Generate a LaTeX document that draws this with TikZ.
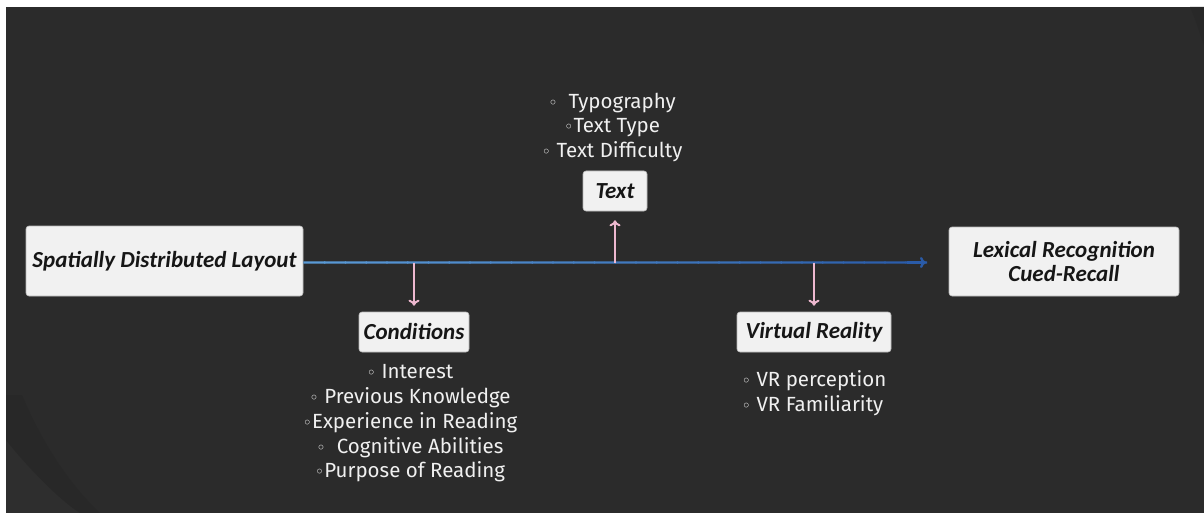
\documentclass[tikz,border=0pt]{standalone}
\usepackage{fontspec}
\setmainfont{Fira Sans}
\newfontfamily\boxfont{Carlito}
\newfontfamily\bulfont{DejaVu Sans}
\usetikzlibrary{arrows.meta,calc}
\definecolor{bgdark}{HTML}{2B2B2B}
\definecolor{bgshade}{HTML}{282828}
\definecolor{bglight}{HTML}{2E2E2E}
\definecolor{boxfill}{HTML}{F1F1F1}
\definecolor{boxline}{HTML}{B8B8B8}
\definecolor{boxtext}{HTML}{161616}
\definecolor{listtext}{HTML}{F0F0F0}
\definecolor{lineA}{HTML}{5A9AD6}
\definecolor{lineB}{HTML}{2A5BA8}
\definecolor{branch}{HTML}{EDB8CF}
\newcommand{\bu}{{\bulfont\fontsize{16}{16}\selectfont ◦}}
\tikzset{
  keybox/.style={draw=boxline, line width=0.6pt, fill=boxfill, rounded corners=3pt,
    text=boxtext, font=\boxfont\bfseries\itshape\fontsize{23}{24}\selectfont,
    inner sep=0pt, align=center},
  itemlist/.style={text=listtext, font=\fontsize{20.5}{24.7}\selectfont, inner sep=0pt},
  branchline/.style={draw=branch, line width=2pt, -{To[length=6pt,width=11pt]}},
}
\begin{document}
\begin{tikzpicture}[x=1pt,y=-1pt]
\useasboundingbox (0,0) rectangle (1204,513);
% page margin and dark backdrop
\fill[white] (0,0) rectangle (1204,513);
\fill[bgdark] (6,7) rectangle (1204,513);
% soft background swoosh in the lower left corner
\fill[bglight] (6,440) .. controls (30,470) and (60,500) .. (80,513) -- (6,513) -- cycle;
\fill[bgshade] (22,395) .. controls (45,450) and (75,490) .. (100,513) -- (80,513)
  .. controls (60,500) and (30,470) .. (6,440) -- (6,395) -- cycle;
% top right swoosh
\fill[bgshade] (1190,7) .. controls (1196,20) and (1200,35) .. (1204,45) -- (1204,7) -- cycle;

% key boxes
\node[keybox, minimum width=277pt, minimum height=70pt] (sdl) at (164.5,261)
  {Spatially Distributed Layout};
\node[keybox, minimum width=230pt, minimum height=69pt] (lex) at (1064,261.5)
  {Lexical Recognition\\Cued-Recall};
\node[keybox, minimum width=64pt, minimum height=40pt] (txt) at (615,191) {Text};
\node[keybox, minimum width=110pt, minimum height=40pt] (cond) at (414,332) {Conditions};
\node[keybox, minimum width=154pt, minimum height=40pt] (vr) at (814,332) {Virtual Reality};

% main axis with a blue gradient
\coordinate (tip) at (926,262.5);
\coordinate (s0) at (sdl.east |- tip);
\foreach \i in {0,...,29}{
  \pgfmathsetmacro{\mixv}{100-\i*100/29}
  \draw[lineA!\mixv!lineB, line width=2.4pt]
    ($(s0)!\i/30!(tip)$) -- ($(s0)!\i/30+1/30+0.002!(tip)$);
}
\draw[lineB, line width=2.4pt, -{To[length=6pt,width=11pt]}] ($(s0)!0.97!(tip)$) -- (tip);

% branches
\coordinate (b1) at (cond.north |- tip);
\coordinate (b2) at (txt.south |- tip);
\coordinate (b3) at (vr.north |- tip);
\draw[branchline, shorten >=6pt] (b1) -- (cond.north);
\draw[branchline, shorten >=9pt] (b2) -- (txt.south);
\draw[branchline, shorten >=6pt] (b3) -- (vr.north);

% item lists
\node[itemlist, align=center, anchor=center] (txtlist) at (612,127.5)
  {\bu\ \ Typography\\\bu Text Type\\\bu\ Text Difficulty};
\node[itemlist, align=center, anchor=center] (condlist) at (410,423.5)
  {\bu\ Interest\\\bu\ Previous Knowledge\\\bu Experience in Reading\\
   \bu\ \ Cognitive Abilities\\\bu Purpose of Reading};
\node[itemlist, align=left, anchor=center] (vrlist) at (814,393)
  {\bu\ VR perception\\\bu\ VR Familiarity};
\end{tikzpicture}
\end{document}
